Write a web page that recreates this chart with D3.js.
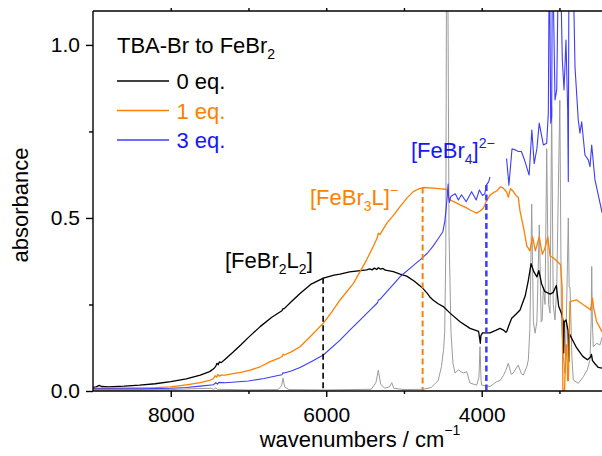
<!DOCTYPE html>
<html>
<head>
<meta charset="utf-8">
<script src="https://cdn.jsdelivr.net/npm/d3@7"></script>
<style>
  html, body { margin: 0; padding: 0; background: #fff; }
  svg { display: block; }
  text { font-family: "Liberation Sans", Arial, sans-serif; }
</style>
</head>
<body>
<script>
// NIR absorbance spectra: TBA-Br added to FeBr2 (wavenumber in cm^-1, absorbance)
const eq0 = [[9000,0.010],[8960,0.012],[8920,0.016],[8890,0.013],[8800,0.012],[8600,0.014],[8400,0.017],[8200,0.021],[8000,0.027],[7800,0.035],[7620,0.046],[7500,0.056],[7440,0.066],[7420,0.072],[7405,0.080],[7390,0.076],[7375,0.084],[7350,0.082],[7300,0.092],[7200,0.112],[7100,0.133],[7000,0.155],[6850,0.186],[6700,0.213],[6570,0.232],[6555,0.238],[6540,0.238],[6450,0.258],[6337,0.282],[6200,0.308],[6037,0.326],[5900,0.335],[5822,0.338],[5700,0.344],[5560,0.348],[5480,0.350],[5440,0.353],[5410,0.350],[5380,0.355],[5350,0.351],[5330,0.356],[5300,0.352],[5270,0.354],[5240,0.349],[5137,0.345],[5050,0.338],[4965,0.332],[4870,0.318],[4772,0.300],[4700,0.282],[4660,0.270],[4622,0.262],[4560,0.252],[4494,0.244],[4407,0.225],[4279,0.200],[4150,0.181],[4040,0.172],[4025,0.150],[4018,0.138],[4010,0.160],[3990,0.168],[3893,0.168],[3820,0.175],[3765,0.181],[3720,0.176],[3690,0.170],[3679,0.171],[3650,0.190],[3614,0.210],[3560,0.222],[3507,0.234],[3440,0.275],[3400,0.320],[3365,0.368],[3330,0.345],[3290,0.330],[3265,0.348],[3230,0.310],[3190,0.288],[3120,0.280],[3080,0.285],[3040,0.305],[3010,0.245],[2970,0.222],[2950,0.200],[2945,0.110],[2938,0.200],[2915,0.205],[2890,0.175],[2880,0.085],[2872,0.165],[2780,0.125],[2700,0.100],[2640,0.090],[2600,0.098],[2588,0.106],[2575,0.088],[2540,0.078],[2500,0.068],[2450,0.066]];

const eq1 = [[9000,0.008],[8800,0.008],[8500,0.009],[8200,0.010],[8000,0.012],[7800,0.018],[7620,0.024],[7500,0.031],[7450,0.036],[7430,0.044],[7410,0.040],[7395,0.048],[7375,0.043],[7350,0.046],[7300,0.046],[7200,0.050],[7100,0.054],[6980,0.060],[6850,0.070],[6720,0.085],[6600,0.096],[6570,0.099],[6555,0.106],[6540,0.104],[6450,0.113],[6337,0.128],[6200,0.158],[6037,0.196],[5930,0.228],[5822,0.263],[5650,0.311],[5480,0.379],[5380,0.425],[5345,0.442],[5330,0.456],[5310,0.452],[5220,0.485],[5120,0.512],[5051,0.533],[4960,0.558],[4880,0.576],[4800,0.585],[4750,0.588],[4620,0.586],[4520,0.584],[4460,0.583],[4445,0.578],[4430,0.560],[4407,0.552],[4340,0.545],[4279,0.538],[4200,0.530],[4150,0.523],[4100,0.518],[4065,0.514],[4020,0.520],[3979,0.528],[3940,0.548],[3893,0.566],[3850,0.573],[3807,0.578],[3760,0.590],[3722,0.586],[3680,0.575],[3657,0.560],[3630,0.585],[3600,0.578],[3560,0.565],[3530,0.560],[3507,0.520],[3460,0.470],[3421,0.420],[3380,0.405],[3345,0.445],[3310,0.405],[3260,0.445],[3220,0.395],[3190,0.410],[3150,0.445],[3120,0.390],[3080,0.385],[3030,0.375],[2985,0.365],[2965,0.300],[2956,0.000],[2935,0.000],[2915,0.133],[2905,0.133],[2895,0.030],[2885,0.030],[2865,0.258],[2778,0.263],[2693,0.249],[2620,0.238],[2600,0.234],[2575,0.268],[2560,0.240],[2521,0.200],[2480,0.183],[2450,0.171]];

// 3 eq.: no data recorded between 3885 and 3680 cm^-1 (null breaks the trace)
const eq3 = [[9000,0.006],[8700,0.006],[8400,0.006],[8000,0.008],[7800,0.010],[7620,0.014],[7450,0.018],[7420,0.024],[7400,0.020],[7380,0.025],[7300,0.024],[7000,0.029],[6800,0.036],[6620,0.045],[6570,0.047],[6555,0.053],[6540,0.052],[6450,0.058],[6337,0.068],[6200,0.084],[6037,0.104],[5822,0.147],[5700,0.175],[5565,0.205],[5430,0.235],[5340,0.255],[5330,0.262],[5308,0.265],[5180,0.297],[5051,0.330],[4920,0.355],[4793,0.379],[4700,0.398],[4630,0.417],[4560,0.440],[4500,0.460],[4475,0.490],[4460,0.520],[4445,0.560],[4432,0.598],[4425,0.560],[4415,0.545],[4400,0.560],[4380,0.565],[4340,0.570],[4300,0.552],[4260,0.567],[4200,0.547],[4130,0.576],[4070,0.552],[4030,0.581],[3990,0.565],[3960,0.570],[3940,0.595],[3910,0.605],[3893,0.619],[3885,null],[3680,0.672],[3650,0.595],[3610,0.700],[3560,0.696],[3530,0.692],[3490,0.692],[3450,0.668],[3390,0.624],[3355,0.754],[3325,0.657],[3290,0.700],[3260,0.774],[3207,0.711],[3164,0.716],[3143,0.803],[3130,1.300],[3112,0.774],[3100,0.793],[3090,1.300],[3057,0.841],[3035,0.870],[3010,1.300],[2993,1.300],[2963,0.957],[2941,0.870],[2916,1.014],[2894,0.812],[2886,0.605],[2877,1.300],[2830,1.300],[2800,0.937],[2758,0.783],[2736,0.745],[2714,0.778],[2672,0.682],[2629,0.668],[2607,0.648],[2585,0.711],[2543,0.610],[2450,0.514]];

// ligand / solvent reference trace
const ref = [[9000,0.003],[8500,0.003],[8000,0.004],[7800,0.006],[7480,0.008],[7450,0.005],[7420,0.009],[7400,0.005],[7000,0.003],[6620,0.004],[6575,0.015],[6555,0.037],[6535,0.012],[6480,0.004],[6000,0.003],[5420,0.005],[5360,0.025],[5330,0.060],[5300,0.020],[5250,0.008],[5185,0.012],[5157,0.024],[5130,0.008],[5000,0.004],[4750,0.005],[4650,0.010],[4560,0.030],[4518,0.070],[4490,0.120],[4476,0.170],[4462,0.400],[4452,1.300],[4438,1.300],[4420,0.450],[4395,0.170],[4370,0.080],[4343,0.052],[4300,0.061],[4237,0.052],[4194,0.056],[4150,0.023],[4065,0.017],[4035,0.040],[4022,0.128],[4008,0.030],[4000,0.017],[3893,0.013],[3850,0.020],[3807,0.027],[3765,0.030],[3720,0.045],[3690,0.060],[3658,0.080],[3620,0.048],[3594,0.052],[3530,0.075],[3490,0.050],[3465,0.046],[3420,0.070],[3400,0.090],[3380,0.180],[3357,0.540],[3335,0.200],[3314,0.167],[3290,0.200],[3259,0.480],[3235,0.200],[3222,0.205],[3207,0.300],[3185,0.250],[3164,0.700],[3140,0.250],[3121,0.225],[3100,0.820],[3080,0.250],[3057,0.205],[3035,0.300],[2995,0.840],[2975,0.200],[2950,0.100],[2929,0.051],[2907,0.254],[2886,0.500],[2875,0.300],[2864,0.300],[2840,0.100],[2822,0.032],[2758,0.022],[2693,0.041],[2642,0.061],[2607,0.090],[2592,0.200],[2585,0.360],[2576,0.200],[2565,0.128],[2521,0.138],[2479,0.133],[2450,0.157]];

// band positions marked with dashed drops
const bandWn = [6040, 4760, 3940];
const bandAbs = [0.327, 0.588, 0.595];

const xMajor = [8000, 6000, 4000];
const xMinor = [7000, 5000, 3000];
const xTop = [8000, 7000, 6000, 5000, 4000, 3000];
const yMajor = [0.0, 0.5, 1.0];
const yMinor = [0.25, 0.75];

const seriesNames = ["0 eq.", "1 eq.", "3 eq."];
const seriesColors = ["#000000", "#ff7f00", "#3c3cff"];
const textColors = ["#000000", "#ff7f00", "#1515ff"];

const W = 602, H = 456;
const x = d3.scaleLinear().domain([9000, 2450]).range([93, 602.2]);
const y = d3.scaleLinear().domain([0, 1.098]).range([391, 11]);

const svg = d3.select("body").append("svg").attr("width", W).attr("height", H);

svg.append("defs").append("clipPath").attr("id", "plot")
  .append("rect").attr("x", 93).attr("y", 11).attr("width", W - 93).attr("height", 380);

const line = d3.line()
  .defined(d => d[1] != null)
  .x(d => x(d[0]))
  .y(d => y(d[1]));

const plot = svg.append("g").attr("clip-path", "url(#plot)");

plot.append("path").datum(ref)
  .attr("fill", "none").attr("stroke", "#9b9b9b").attr("stroke-width", 1)
  .attr("stroke-linejoin", "round").attr("d", line);

[eq0, eq1, eq3].forEach((s, i) => {
  plot.append("path").datum(s)
    .attr("fill", "none")
    .attr("stroke", seriesColors[i])
    .attr("stroke-width", i === 2 ? 1.1 : 1.3)
    .attr("stroke-linejoin", "round")
    .attr("d", line);
});

// dashed drop lines at the band maxima
const dashWidths = [1.6, 2, 2.5];
bandWn.forEach((w, i) => {
  plot.append("line")
    .attr("x1", x(w)).attr("x2", x(w))
    .attr("y1", y(bandAbs[i])).attr("y2", y(0))
    .attr("stroke", seriesColors[i])
    .attr("stroke-width", dashWidths[i])
    .attr("stroke-dasharray", "6,3.5");
});

// frame
const frame = svg.append("g").attr("stroke", "#000").attr("stroke-width", 1.4).attr("fill", "none");
frame.append("line").attr("x1", 93).attr("x2", 93).attr("y1", 11).attr("y2", 391);
frame.append("line").attr("x1", 93).attr("x2", W).attr("y1", 391).attr("y2", 391);
frame.append("line").attr("x1", 93).attr("x2", W).attr("y1", 11).attr("y2", 11);

// axes
const fontSize = 21;
const xAxis = svg.append("g").attr("transform", "translate(0,391)")
  .call(d3.axisBottom(x).tickValues(xMajor).tickSize(6).tickPadding(10).tickFormat(d3.format("d")));
svg.append("g").attr("transform", "translate(0,391)")
  .call(d3.axisBottom(x).tickValues(xMinor).tickSize(3).tickFormat(""));
svg.append("g").attr("transform", "translate(0,11)")
  .call(d3.axisTop(x).tickValues(xTop).tickSize(3).tickFormat(""));
const yAxis = svg.append("g").attr("transform", "translate(93,0)")
  .call(d3.axisLeft(y).tickValues(yMajor).tickSize(7).tickPadding(6).tickFormat(d3.format(".1f")));
svg.append("g").attr("transform", "translate(93,0)")
  .call(d3.axisLeft(y).tickValues(yMinor).tickSize(4).tickFormat(""));

svg.selectAll(".domain").remove();
svg.selectAll(".tick line").attr("stroke", "#000").attr("stroke-width", 1.4);
svg.selectAll(".tick text")
  .attr("font-family", "'Liberation Sans', Arial, sans-serif")
  .attr("font-size", fontSize).attr("fill", "#000");

// axis titles
svg.append("text")
  .attr("transform", "translate(27.5,205) rotate(-90)")
  .attr("text-anchor", "middle").attr("font-size", 22)
  .text("absorbance");

const xt = svg.append("text").attr("x", 360).attr("y", 447)
  .attr("text-anchor", "middle").attr("font-size", 22);
xt.append("tspan").text("wavenumbers / cm");
xt.append("tspan").attr("dy", -12).attr("font-size", 14).text("\u22121");

// rich label helper: parts are [text, "sub"|"sup"|null]
function richText(g, px, py, parts, color) {
  const t = g.append("text").attr("x", px).attr("y", py)
    .attr("font-size", 22).attr("fill", color);
  let shift = 0;
  parts.forEach(([s, kind]) => {
    const target = kind === "sub" ? 6 : kind === "sup" ? -10 : 0;
    const ts = t.append("tspan").attr("dy", target - shift).text(s);
    if (kind) ts.attr("font-size", 14);
    shift = target;
  });
  return t;
}

// legend
richText(svg, 117, 53, [["TBA-Br to FeBr", null], ["2", "sub"]], "#000");
const legendY = [81, 110.5, 140];
seriesNames.forEach((n, i) => {
  svg.append("line")
    .attr("x1", 117).attr("x2", 169)
    .attr("y1", legendY[i]).attr("y2", legendY[i])
    .attr("stroke", seriesColors[i]).attr("stroke-width", 1.3);
  svg.append("text").attr("x", 176.5).attr("y", legendY[i] + 8)
    .attr("font-size", 22).attr("fill", textColors[i]).text(n);
});

// species labels
richText(svg, 225, 268, [["[FeBr", null], ["2", "sub"], ["L", null], ["2", "sub"], ["]", null]], "#000");
richText(svg, 310, 205, [["[FeBr", null], ["3", "sub"], ["L]", null], ["\u2212", "sup"]], "#ff7f00");
richText(svg, 411, 158, [["[FeBr", null], ["4", "sub"], ["]", null], ["2\u2212", "sup"]], "#1515ff");
</script>
</body>
</html>
